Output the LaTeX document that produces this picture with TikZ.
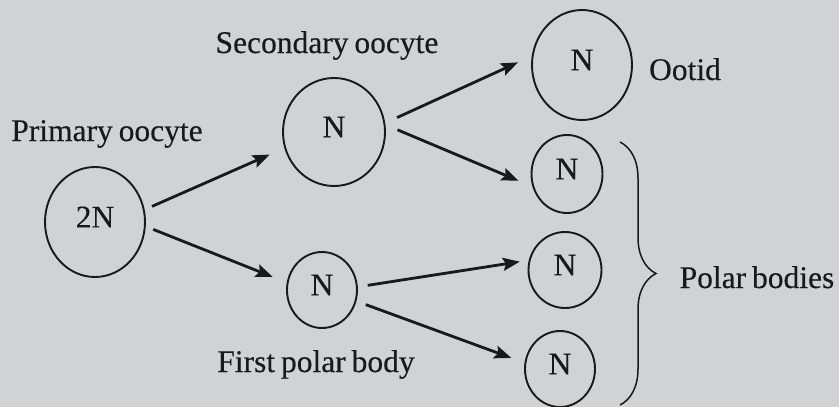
\documentclass[tikz,border=0pt]{standalone}
\usepackage{fontspec}
\setmainfont[WordSpace=0.75,FakeBold=0.3]{Liberation Serif}
\usetikzlibrary{shapes.geometric,arrows.meta,decorations.pathreplacing}
\definecolor{bg}{RGB}{209,210,212}
\definecolor{ink}{RGB}{25,25,27}
\begin{document}
\begin{tikzpicture}[x=1pt,y=-1pt,
  cell/.style={ellipse,draw=ink,line width=1.9pt,inner sep=0pt,text depth=10pt,
    font=\fontsize{31.5}{36}\selectfont,text=ink},
  lbl/.style={font=\fontsize{31.5}{36}\selectfont,text=ink,inner sep=0pt,anchor=base},
  arr/.style={draw=ink,line width=2.8pt,-{Stealth[length=17pt,width=13pt,inset=3pt]}},
  bracestyle/.style={draw=ink,line width=1.5pt,decorate,decoration={brace,amplitude=36pt,aspect=0.5}}]
\useasboundingbox (0,0) rectangle (839,407);
\fill[bg] (0,0) rectangle (839,407);

\node[cell,minimum width=100pt,minimum height=110pt] (a) at (95,222) {2N};
\node[cell,minimum width=102pt,minimum height=108pt] (s) at (334,132) {N};
\node[cell,minimum width=70pt,minimum height=76pt] (f) at (322,290) {N};
\node[cell,minimum width=100pt,minimum height=110pt] (o) at (582,65) {N};
\node[cell,minimum width=71pt,minimum height=78pt] (p1) at (567,174) {N};
\node[cell,minimum width=73pt,minimum height=76pt] (p2) at (565,270) {N};
\node[cell,minimum width=70pt,minimum height=76pt] (p3) at (560,369) {N};

\node[lbl] (tp) at (107,141) {Primary oocyte};
\node[lbl] (ts) at (327,53) {Secondary oocyte};
\node[lbl] (tf) at (316,372) {First polar body};
\node[lbl] (to) at (685,80) {Ootid};
\node[lbl] (tb) at (757,288) {Polar bodies};

\draw[arr,shorten <=8pt,shorten >=16pt] (a.14) -- (s.198);
\draw[arr,shorten <=8pt,shorten >=15pt] (a.-5) -- (f.168);
\draw[arr,shorten <=13pt,shorten >=15pt] (s.10) -- (o.170);
\draw[arr,shorten <=13pt,shorten >=15pt] (s.8) -- (p1.200);
\draw[arr,shorten <=10pt,shorten >=9pt] (f.5) -- (p2.165);
\draw[arr,shorten <=10pt,shorten >=14pt] (f.-18) -- (p3.170);

\coordinate (bt) at (620,142);
\coordinate (bb) at (620,405);
\draw[bracestyle] (bt) -- (bb);
\end{tikzpicture}
\end{document}
